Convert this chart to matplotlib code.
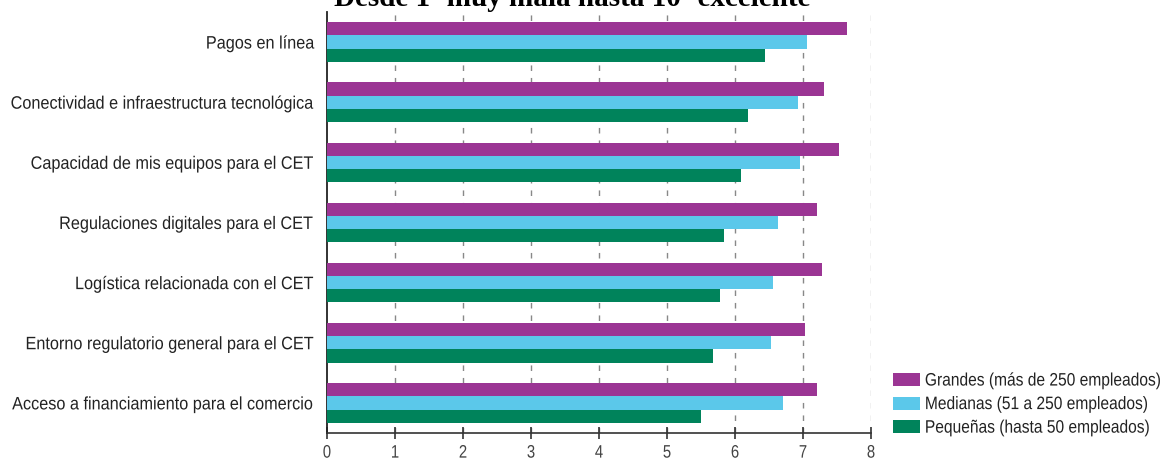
import matplotlib
matplotlib.use("Agg")
import matplotlib.pyplot as plt
import numpy as np
from matplotlib.patches import Patch
from matplotlib.patheffects import AbstractPathEffect
from matplotlib.transforms import Affine2D
from matplotlib import font_manager

categories = [
    "Pagos en línea",
    "Conectividad e infraestructura tecnológica",
    "Capacidad de mis equipos para el CET",
    "Regulaciones digitales para el CET",
    "Logística relacionada con el CET",
    "Entorno regulatorio general para el CET",
    "Acceso a financiamiento para el comercio",
]
grandes = [7.65, 7.31, 7.53, 7.21, 7.28, 7.03, 7.21]
medianas = [7.06, 6.93, 6.96, 6.63, 6.56, 6.53, 6.71]
pequenas = [6.44, 6.19, 6.09, 5.84, 5.78, 5.68, 5.50]
series_labels = [
    "Grandes (más de 250 empleados)",
    "Medianas (51 a 250 empleados)",
    "Pequeñas (hasta 50 empleados)",
]
x_ticks = [0, 1, 2, 3, 4, 5, 6, 7, 8]
title = "Desde 1=muy mala hasta 10=excelente"

colors = ["#9B3594", "#5BC8EA", "#00835B"]

available = {f.name for f in font_manager.fontManager.ttflist}
narrow = "Liberation Sans Narrow" in available
label_font = "Liberation Sans Narrow" if narrow else "Liberation Sans"


class VStretch(AbstractPathEffect):
    """Draw text taller than its font size, keeping its width (a condensed look)."""

    def __init__(self, sy):
        super().__init__()
        self.sy = sy

    def draw_path(self, renderer, gc, tpath, affine, rgbFace=None):
        ext = tpath.get_extents(affine)
        yc = 0.5 * (ext.y0 + ext.y1)
        t = affine + Affine2D().translate(0, -yc).scale(1, self.sy).translate(0, yc)
        renderer.draw_path(gc, tpath, t, rgbFace)


def tall(sy):
    return [VStretch(1.0 if narrow else sy)]


fig = plt.figure(figsize=(11.63, 4.60), dpi=100)
ax = fig.add_axes([327 / 1163, 1 - 434 / 460, (871 - 327) / 1163, (434 - 13) / 460])

y = np.arange(len(categories))
h = 0.22
for i, (vals, col, lab) in enumerate(zip([grandes, medianas, pequenas], colors, series_labels)):
    ax.barh(y + (i - 1) * h, vals, height=h, color=col, label=lab, zorder=3)

ax.set_xlim(0, 8)
ax.set_ylim(6.5, -0.5)
ax.set_xticks(x_ticks)
xt = ax.set_xticklabels([str(t) for t in x_ticks], fontsize=10.7, color="#444444", family=label_font)
for t in xt:
    t.set_path_effects(tall(1.22))
ax.set_yticks(y)
yt = ax.set_yticklabels(categories, fontsize=11.7, color="#222222", family=label_font)
for t in yt:
    t.set_path_effects(tall(1.11))
ax.tick_params(axis="y", length=0, pad=9)
ax.tick_params(axis="x", direction="inout", length=8, width=1.2, color="#333333", pad=5)

for t in x_ticks[1:8]:
    ax.axvline(t, color="#888888", lw=1.0, ls=(0, (4, 5)), zorder=1)
ax.axvline(8, color="#bbbbbb", lw=1.0, ls=(0, (4, 5)), zorder=1)

for s in ["top", "right"]:
    ax.spines[s].set_visible(False)
ax.spines["left"].set_color("#222222")
ax.spines["left"].set_linewidth(1.3)
ax.spines["bottom"].set_color("#333333")
ax.spines["bottom"].set_linewidth(1.2)

handles = [Patch(facecolor=c, edgecolor="none") for c in colors]
leg = fig.legend(handles, series_labels, loc="lower left",
                 bbox_to_anchor=(893 / 1163, 1 - 436 / 460),
                 frameon=False, prop={"family": label_font, "size": 11.2},
                 handlelength=1.75, handleheight=0.9, handletextpad=0.3, labelspacing=0.55,
                 borderaxespad=0, borderpad=0)
for t in leg.get_texts():
    t.set_path_effects(tall(1.16))
    t.set_color("#222222")

fig.text(572 / 1163, 1 - 6 / 460, title, ha="center", va="baseline",
         fontsize=21, fontweight="bold", family="Liberation Serif")

fig.savefig("out.png", dpi=100)
